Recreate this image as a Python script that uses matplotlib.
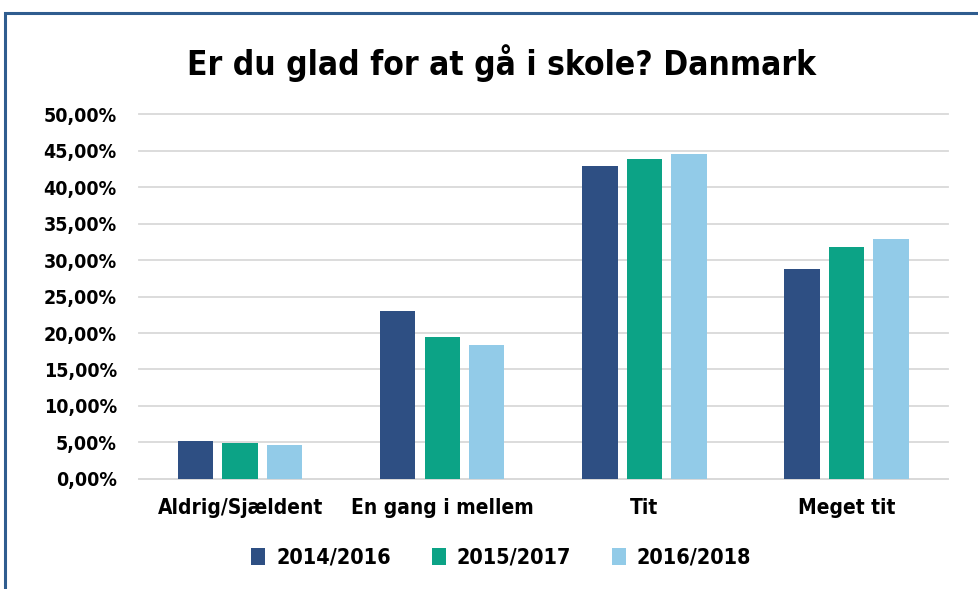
import matplotlib
matplotlib.use("Agg")
import matplotlib.pyplot as plt
import numpy as np
from matplotlib.patches import Rectangle

# data
categories = ["Aldrig/Sjældent", "En gang i mellem", "Tit", "Meget tit"]
series_names = ["2014/2016", "2015/2017", "2016/2018"]
v_2014_2016 = [5.2, 23.0, 42.9, 28.8]
v_2015_2017 = [4.9, 19.4, 43.9, 31.8]
v_2016_2018 = [4.6, 18.3, 44.6, 32.9]
colors = ["#2e4f83", "#0ca386", "#92cbe8"]
yticks = [0, 5, 10, 15, 20, 25, 30, 35, 40, 45, 50]

plt.rcParams['font.family'] = ['DejaVu Sans']

fig = plt.figure(figsize=(9.79, 5.89), dpi=100)
ax = fig.add_axes([0.142, 0.187, 0.826, 0.619])

x = np.arange(len(categories))
width = 0.175
offsets = [-0.22, 0.0, 0.22]
for vals, name, col, off in zip([v_2014_2016, v_2015_2017, v_2016_2018], series_names, colors, offsets):
    ax.bar(x + off, vals, width, color=col, label=name, zorder=3)

ax.set_xlim(-0.5, len(categories) - 0.5)
ax.set_ylim(0, 50)
ax.set_yticks(yticks)
ax.set_yticklabels([f"{t:.2f}".replace(".", ",") + "%" for t in yticks],
                   fontsize=14, fontweight='bold', fontstretch='condensed')
ax.set_xticks(x)
ax.set_xticklabels(categories, fontsize=15, fontweight='bold', fontstretch='condensed')
ax.tick_params(axis='y', length=0, pad=16)
ax.tick_params(axis='x', length=0, pad=14)
ax.grid(axis='y', color='#d9d9d9', linewidth=1.3, zorder=0)
for gl in ax.get_ygridlines():
    gl.set_clip_on(False)
for s in ['top', 'right', 'left']:
    ax.spines[s].set_visible(False)
ax.spines['bottom'].set_color('#d9d9d9')
ax.spines['bottom'].set_linewidth(1.3)

fig.text(0.512, 0.893, "Er du glad for at gå i skole? Danmark", ha='center', va='center',
         fontsize=24, fontweight='bold', fontstretch='condensed')

fig.legend(loc='center', bbox_to_anchor=(0.512, 0.053), ncol=3, frameon=False,
           handlelength=0.65, handleheight=0.8, handletextpad=0.5, columnspacing=1.9,
           prop={'size': 15.5, 'weight': 'bold', 'stretch': 'condensed'})

# blue frame around the chart (cut off at right and bottom)
fig.patches.append(Rectangle((0.005, -0.05), 1.2, 1.028, transform=fig.transFigure,
                             fill=False, edgecolor='#2f5d8f', linewidth=2.2))

fig.savefig("out.png", dpi=100, facecolor='white')
